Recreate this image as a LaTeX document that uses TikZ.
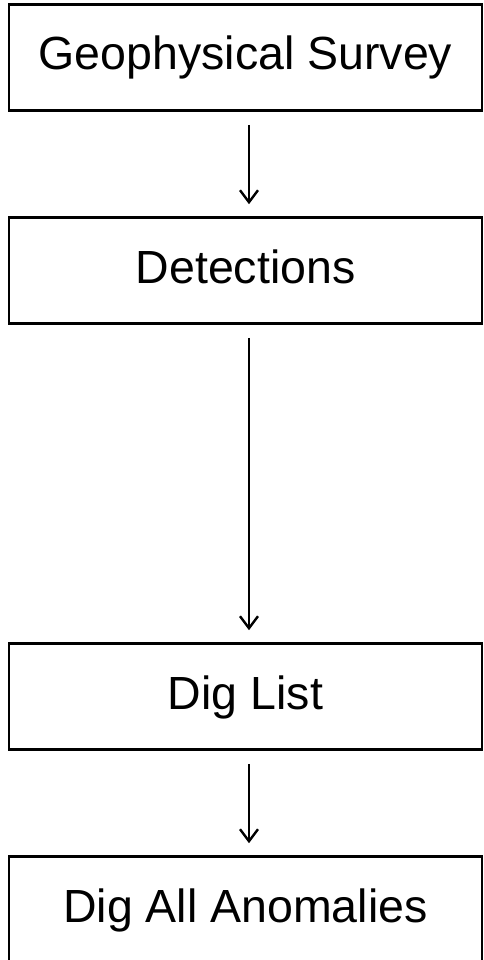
\documentclass[tikz,border=0pt]{standalone}
\usepackage{fontspec}
\setmainfont{Liberation Sans}
\usetikzlibrary{arrows.meta}
\tikzset{
  stagebox/.style={draw,line width=2.6pt,minimum width=473pt,minimum height=106pt,
    inner sep=0pt,text height=35pt,text depth=10pt,font=\fontsize{46.5}{50}\selectfont},
  flow/.style={line width=2.4pt,-{Straight Barb[length=12pt,width=18pt,line width=2.4pt]},
    shorten <=13pt,shorten >=12pt}
}

\begin{document}
\begin{tikzpicture}[x=1pt,y=-1pt]
     \useasboundingbox (0,0) rectangle (483,960);
     \node[stagebox] (survey) at (245.5, 57.5) {Geophysical Survey};
     \node[stagebox] (detect) at (245.5,270.5) {Detections};
     \node[stagebox] (diglist) at (245.5,696.5) {Dig List};
     \node[stagebox] (digall) at (245.5,909.5) {Dig All Anomalies};
     % arrows sit a little right of the box centres
     \draw[flow] ([xshift=3.5pt]survey.south) -- ([xshift=3.5pt]detect.north);
     \draw[flow] ([xshift=3.5pt]detect.south) -- ([xshift=3.5pt]diglist.north);
     \draw[flow] ([xshift=3.5pt]diglist.south) -- ([xshift=3.5pt]digall.north);
\end{tikzpicture}
\end{document}
